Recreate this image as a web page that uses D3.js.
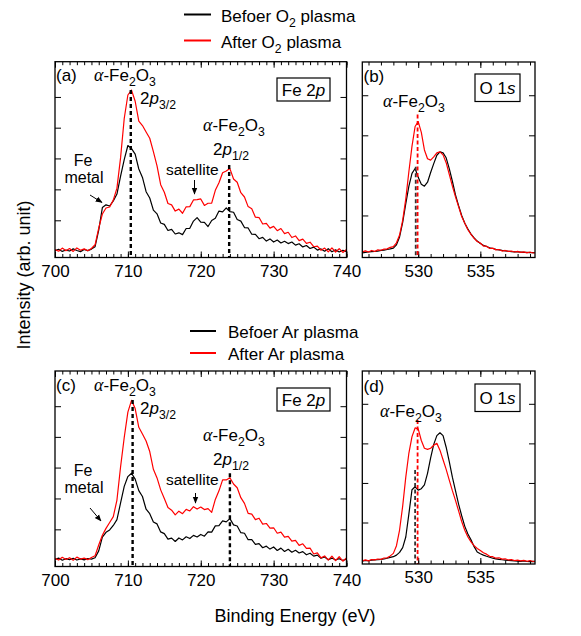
<!DOCTYPE html>
<html lang="en">
<head>
<meta charset="UTF-8">
<title>XPS Fe 2p / O 1s before and after plasma</title>
<script src="https://d3js.org/d3.v7.min.js"></script>
<style>
  body { margin: 0; background: #fff; }
  svg { display: block; font-family: "Liberation Sans", Arial, sans-serif; }
</style>
</head>
<body>
<svg id="chart" width="581" height="636"></svg>
<script>
// ---- data (arb. unit) ----
const feEnergy = d3.range(700, 740.001, 0.5);   // 81 points
const oEnergy  = d3.range(525.5, 539.501, 0.25); // 57 points

const feBeforeO2 = [3.5,4.2,3.1,3.8,3.3,4.4,3.6,3.0,4.1,3.5,4.3,5.5,14,25.5,26.9,26.3,28.9,32.4,41.6,50.0,57.2,55.6,
  52.8,45.2,40.9,33.6,30.4,24.2,22.3,17.6,16.9,13.8,14.4,12.0,12.6,11.7,14.8,14.9,18.6,20.4,18.1,17.9,
  15.8,18.9,20.0,23.7,23.3,25.3,23.4,23.1,19.4,18.6,15.3,15.1,11.9,11.8,9.6,10.3,8.4,9.5,7.9,8.9,
  7.4,8.3,7.1,7.9,6.3,7.0,5.4,6.1,4.6,5.3,3.8,4.4,3.2,4.5,2.9,3.9,2.8,3.7,3.0];
const feAfterO2 = [4,3.2,4.8,3.5,4.6,3.1,4.9,3.7,4.4,3.4,4.6,6.5,15,22.2,25.3,25.8,29.3,35.4,51,71,83,85.5,
  79.8,69.6,67.4,64.1,60.9,54.1,46.8,37.2,33.3,27.6,26.9,23.7,24.7,22.6,25.9,26.0,29.4,29.6,29.9,26.6,
  27.7,27.8,34.3,38.2,43.3,44.2,45.4,40.1,38.4,33.1,30.9,26.0,24.9,20.6,20.4,17.1,17.4,15.0,15.9,13.7,
  14.8,12.2,12.9,10.2,11.0,8.6,9.4,7.2,7.8,5.5,5.8,3.7,4.8,2.9,4.9,2.8,4.5,2.6,4.1];
const feBeforeAr = [3.6,4.3,3.2,4.0,3.5,4.2,3.3,3.9,3.4,4.1,3.8,4.5,8,15,17.5,18.7,21,24,32.5,41,46,47.7,
  44.7,38.8,35.8,29.3,27.0,22.8,21.8,17.7,16.8,14.0,14.5,12.8,14.6,13.6,15.2,14.3,15.9,15.1,16.4,15.5,
  17.7,17.6,20.8,20.9,23.3,22.8,24.5,21.3,20.7,17.3,17.0,13.7,13.7,11.3,11.7,9.6,10.4,8.9,10.0,8.2,
  9.4,7.7,8.8,7.3,8.3,6.9,7.6,6.0,6.8,5.3,5.8,4.2,4.9,3.5,4.3,3.3,4.0,3.1,3.7];
const feAfterAr = [4.2,3.3,4.7,3.6,4.5,3.2,4.8,3.8,4.3,3.5,4.6,5.5,11,16,19.5,22.5,25.5,34,51,66,79,85,
  80.8,71.2,67.8,64.2,58.8,49.7,45.3,39.2,34.8,30.2,28.8,26.4,28.3,27.0,29.2,28.4,30.6,29.4,30.4,29.1,
  29.6,27.7,34.3,38.7,44.3,44.3,45.4,42.2,40.3,35.2,32.3,27.2,26.8,24.0,24.7,21.7,22.0,19.6,19.8,17.0,
  17.6,15.0,15.4,13.0,13.4,10.8,11.6,9.3,9.4,6.4,7.0,4.4,5.4,3.3,5.3,3.0,5.0,2.7,4.4];

const oBeforeO2 = [2.4,2.6,2.8,3.0,3.1,3.3,3.6,3.8,4.1,4.4,4.8,6.5,10.5,18,27.5,36.5,43,45.5,41,37.5,
  36.5,38.5,43.5,48,52.3,54,53.5,51,45.5,39,32,26.5,21.5,17.5,14.5,12,10,8.4,7.2,6.3,
  5.6,5.0,4.6,4.2,3.9,3.6,3.4,3.2,3.0,2.9,2.8,2.7,2.6,2.6,2.5,2.5,2.4];
const oAfterO2 = [2.9,3.4,2.8,3.6,3.1,3.9,3.7,4.3,4.4,5.2,5.6,7.5,11.5,19,30,44,57,67,69.5,64,
  55,50.5,49.8,51.5,53.5,54,52.5,48.5,42.5,36.5,31,26,21,17.5,14.2,11.8,9.8,8.2,7.4,5.8,
  5.8,4.6,4.8,3.9,4.1,3.3,3.6,3.1,3.3,2.8,3.1,2.6,2.9,2.4,2.8,2.3,2.6];
const oBeforeAr = [1.5,1.8,1.7,2.0,2.1,2.2,2.4,2.6,3.0,3.4,3.8,4.6,6,8.5,14,26,38.5,40,38.3,39,
  41,47,55,62,66.5,68,66.5,60.5,53,45,38,31,25,19.5,15.5,12.5,9,6.2,5.3,4.6,
  4.0,3.5,3.0,2.7,2.4,2.2,2.0,1.8,1.7,1.6,1.5,1.4,1.6,1.3,1.2,1.4,1.2];
const oAfterAr = [1.6,2.1,1.6,2.3,2.1,2.6,2.4,3.1,3.2,4.2,5.5,9.5,17.6,30,45,57.5,66,70.5,70,64,
  60,59.4,60,61.5,62.5,59,54,49,43.5,38,33,27.5,22,17.5,14,11.5,9.5,8,7,5.8,
  5.1,4.0,3.8,3.0,3.2,2.5,2.7,2.1,2.3,1.8,2.0,1.6,1.9,1.4,1.8,1.3,1.6];

// tick values
const feXLabels = [700, 710, 720, 730, 740];
const oXLabels  = [530, 535];
const feYTicks  = [19, 34.8, 50.6, 66.3, 82];
const oYTicks   = [21.5, 42, 62.5, 83];

// peak marker lines: [energy, top intensity, which spectrum]
const peaksA = [[710.4, 85.5], [723.9, 47.2]];
const peaksC = [[710.65, 85.2], [724.0, 47.7]];
const peaksB = [[529.8, 46.4, "before"], [529.95, 73.2, "after"]];
const peaksD = [[529.75, 48.7, "before"], [529.95, 74.6, "after"]];

const RED = "#ff0000", BLACK = "#000";
const svg = d3.select("#chart");
const FS = 17;

const defs = svg.append("defs");
defs.append("marker").attr("id", "arr")
  .attr("viewBox", "0 0 10 10").attr("refX", 9).attr("refY", 5)
  .attr("markerWidth", 7).attr("markerHeight", 7).attr("orient", "auto")
  .append("path").attr("d", "M0,1 L10,5 L0,9 z").attr("fill", "#000");

// text with subscripts / italics
function rich(x, y, parts, size, anchor) {
  const t = svg.append("text").attr("x", x).attr("y", y)
    .attr("font-size", size).attr("text-anchor", anchor || "start").attr("fill", "#000");
  let shift = 0;
  parts.forEach(([s, k]) => {
    const sp = t.append("tspan").text(s);
    let want = 0;
    if (k === "sub") { sp.attr("font-size", size * 0.72); want = size * 0.3; }
    if (k === "gi") sp.attr("font-family", "'Liberation Serif', 'DejaVu Serif', serif").attr("font-style", "italic").attr("font-size", size * 1.05);
    if (k === "i") sp.attr("font-style", "italic");
    if (want !== shift) { sp.attr("dy", want - shift); shift = want; }
  });
  return t;
}
const aFe2O3 = [["α", "gi"], ["-Fe", ""], ["2", "sub"], ["O", ""], ["3", "sub"]];

function panel(opt) {
  const x = d3.scaleLinear().domain(opt.xDomain).range(opt.xRange);
  const y = d3.scaleLinear().domain([0, 100]).range(opt.yRange);
  const g = svg.append("g");
  const [xl, xr] = opt.xRange, [yb, yt] = opt.yRange;

  const clipId = "clip" + opt.id;
  defs.append("clipPath").attr("id", clipId)
    .append("rect").attr("x", xl).attr("y", yt).attr("width", xr - xl).attr("height", yb - yt);

  // minor + major ticks, inward on all four sides
  const minor = d3.range(Math.ceil(opt.xDomain[0]), opt.xDomain[1] + 0.001, 1);
  const mk = (axis, tr, vals, size, fmt) => {
    const a = g.append("g").attr("transform", tr)
      .call(axis.tickValues(vals).tickSize(size).tickFormat(fmt || ""));
    a.select(".domain").remove();
    a.selectAll("line").attr("stroke", "#000").attr("stroke-width", 1);
    return a;
  };
  mk(d3.axisBottom(x), `translate(0,${yb})`, minor, -3.5);
  mk(d3.axisTop(x), `translate(0,${yt})`, minor, -3.5);
  mk(d3.axisTop(x), `translate(0,${yt})`, opt.xLabels, -6);
  const bl = mk(d3.axisBottom(x).tickPadding(7), `translate(0,${yb})`, opt.xLabels, -6, d3.format("d"));
  bl.selectAll("text").attr("font-size", FS).attr("font-family", "'Liberation Sans', Arial, sans-serif").attr("fill", "#000");
  mk(d3.axisLeft(y), `translate(${xl},0)`, opt.yTicks, -6);
  mk(d3.axisRight(y), `translate(${xr},0)`, opt.yTicks, -6);

  // spectra
  const line = d3.line().x((d, i) => x(opt.energy[i])).y(d => y(d));
  const curves = g.append("g").attr("clip-path", `url(#${clipId})`);
  opt.series.forEach(s => {
    curves.append("path").datum(s.values)
      .attr("fill", "none").attr("stroke", s.color).attr("stroke-width", 1.2)
      .attr("stroke-linejoin", "round").attr("d", line);
  });

  // peak position markers
  opt.peaks.forEach(p => {
    const col = p[2] === "after" ? RED : p[2] === "before" ? "#333" : "#000";
    g.append("line")
      .attr("x1", x(p[0])).attr("x2", x(p[0]))
      .attr("y1", y(p[1])).attr("y2", yb)
      .attr("stroke", col).attr("stroke-width", opt.dashW)
      .attr("stroke-dasharray", opt.dash);
  });

  // frame
  g.append("rect").attr("x", xl).attr("y", yt).attr("width", xr - xl).attr("height", yb - yt)
    .attr("fill", "none").attr("stroke", "#000").attr("stroke-width", 1.3);
}

panel({ id: "a", xDomain: [700, 740], xRange: [55, 346.5], yRange: [257.5, 61.7],
  energy: feEnergy, xLabels: feXLabels, yTicks: feYTicks, peaks: peaksA, dash: "4,3", dashW: 2.4,
  series: [{ values: feBeforeO2, color: BLACK }, { values: feAfterO2, color: RED }] });
panel({ id: "b", xDomain: [525.5, 539.4], xRange: [362.3, 535], yRange: [257.5, 62],
  energy: oEnergy, xLabels: oXLabels, yTicks: oYTicks, peaks: peaksB, dash: "4,2.5", dashW: 1.8,
  series: [{ values: oBeforeO2, color: BLACK }, { values: oAfterO2, color: RED }] });
panel({ id: "c", xDomain: [700, 740], xRange: [55, 346.5], yRange: [566.5, 371],
  energy: feEnergy, xLabels: feXLabels, yTicks: feYTicks, peaks: peaksC, dash: "4,3", dashW: 2.4,
  series: [{ values: feBeforeAr, color: BLACK }, { values: feAfterAr, color: RED }] });
panel({ id: "d", xDomain: [525.5, 539.4], xRange: [362.3, 535], yRange: [564, 371],
  energy: oEnergy, xLabels: oXLabels, yTicks: oYTicks, peaks: peaksD, dash: "4,2.5", dashW: 1.8,
  series: [{ values: oBeforeAr, color: BLACK }, { values: oAfterAr, color: RED }] });

// ---- legends ----
function legend(x0, x1, tx, ys, gas) {
  const rows = [["Befoer ", BLACK], ["After ", RED]];
  rows.forEach(([lab, col], i) => {
    svg.append("line").attr("x1", x0).attr("x2", x1).attr("y1", ys[i]).attr("y2", ys[i])
      .attr("stroke", col).attr("stroke-width", 2);
    const parts = gas === "O" ? [[lab + "O", ""], ["2", "sub"], [" plasma", ""]] : [[lab + "Ar plasma", ""]];
    rich(tx, ys[i] + 7, parts, FS);
  });
}
legend(184, 211, 221, [14.5, 40.5], "O");
legend(190, 216, 228, [331, 353], "Ar");

// ---- annotations ----
function box(x, y, w, h, parts) {
  svg.append("rect").attr("x", x).attr("y", y).attr("width", w).attr("height", h)
    .attr("fill", "#fff").attr("stroke", "#000").attr("stroke-width", 1.2);
  rich(x + w / 2, y + h / 2 + 6, parts, FS, "middle");
}
function arrow(x1, y1, x2, y2) {
  svg.append("line").attr("x1", x1).attr("y1", y1).attr("x2", x2).attr("y2", y2)
    .attr("stroke", "#000").attr("stroke-width", 1).attr("marker-end", "url(#arr)");
}

function feNotes(dy, lab) {
  rich(56, 80.5 + dy, [["(" + lab + ")", ""]], FS);
  rich(94, 80.5 + dy, aFe2O3, FS);
  rich(140, 104 + dy, [["2", ""], ["p", "i"], ["3/2", "sub"]], FS);
  box(277, 78 + dy, 53, 23, [["Fe 2", ""], ["p", "i"]]);
  rich(203, 131 + dy, aFe2O3, FS);
  rich(213, 155 + dy, [["2", ""], ["p", "i"], ["1/2", "sub"]], FS);
  rich(83, 166 + dy, [["Fe", ""]], 16, "middle");
  rich(84, 183 + dy, [["metal", ""]], 16, "middle");
  rich(166, 175 + dy, [["satellite", ""]], FS - 1.5);
}
feNotes(0, "a");
feNotes(310, "c");
arrow(90, 195, 102, 202.5);
arrow(194.5, 180, 194.5, 194);
arrow(90, 508, 101, 521);
arrow(195.5, 493, 195.5, 503);

function oNotes(dy, lab, ax) {
  rich(363.5, 82 + dy, [["(" + lab + ")", ""]], FS);
  rich(ax, 107 + dy, aFe2O3, FS);
  box(475, 74 + dy, 45, 27.5, [["O 1", ""], ["s", "i"]]);
}
oNotes(0, "b", 383);
oNotes(310, "d", 380);

// axis titles
svg.append("text").attr("transform", "translate(30,275) rotate(-90)")
  .attr("text-anchor", "middle").attr("font-size", 18).text("Intensity (arb. unit)");
svg.append("text").attr("x", 295).attr("y", 622)
  .attr("text-anchor", "middle").attr("font-size", 18).text("Binding Energy (eV)");
</script>
</body>
</html>
